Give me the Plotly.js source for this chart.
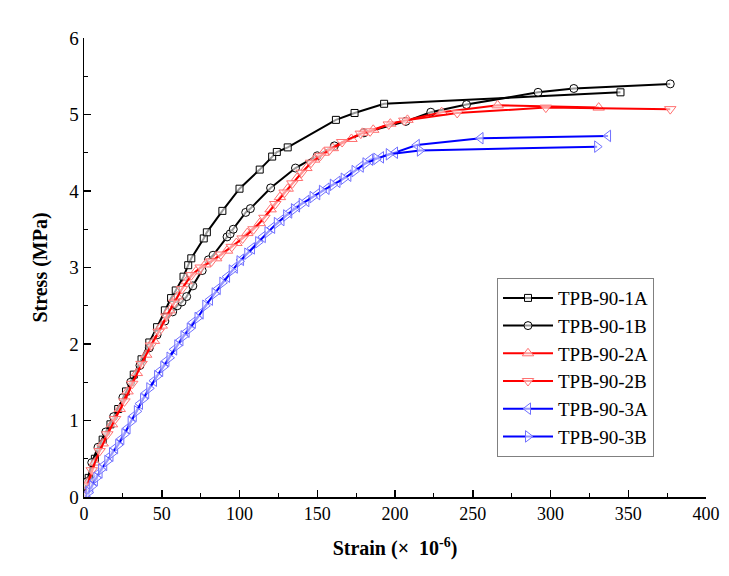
<!DOCTYPE html>
<html>
<head>
<meta charset="utf-8">
<script src="https://cdn.plot.ly/plotly-3.0.1.min.js"></script>
<style>html,body{margin:0;padding:0;background:#fff;}#chart{width:729px;height:576px;}</style>
</head>
<body>
<div id="chart"></div>
<script>
const names = ["TPB-90-1A","TPB-90-1B","TPB-90-2A","TPB-90-2B","TPB-90-3A","TPB-90-3B"];

const x1A = [0,3,7,12,17,22,27,32,37,42,47,52,56,59,64,67,69,77,79,89,100,113,121,124,131,162,174,193,345];
const y1A = [0,0.25,0.5,0.75,0.95,1.15,1.38,1.6,1.8,2.02,2.22,2.44,2.6,2.7,2.88,3.03,3.12,3.38,3.46,3.74,4.03,4.28,4.45,4.51,4.57,4.93,5.02,5.14,5.29];

const x1B = [0,2,5,9,14,19,25,30,36,42,47,52,57,60,63,66,70,76,80,83,92,94,96,104,107,120,136,150,161,180,207,223,246,292,315,377];
const y1B = [0,0.2,0.45,0.65,0.85,1.05,1.3,1.5,1.72,1.95,2.12,2.3,2.42,2.5,2.55,2.62,2.76,2.96,3.1,3.16,3.4,3.44,3.5,3.72,3.77,4.04,4.3,4.46,4.59,4.76,4.91,5.03,5.13,5.29,5.34,5.40];

const x2A = [0,3,7,12,18,23,28,34,40,45,50,55,60,66,72,78,85,92,98,105,113,120,126,131,137,143,148,154,160,172,179,186,197,208,230,266,331];
const y2A = [0,0.2,0.45,0.7,0.95,1.15,1.38,1.62,1.86,2.04,2.24,2.44,2.62,2.82,2.95,3.04,3.12,3.22,3.32,3.45,3.58,3.76,3.92,4.03,4.17,4.3,4.41,4.5,4.56,4.68,4.76,4.8,4.88,4.93,5.03,5.12,5.09];

const x2B = [0,2,5,10,15,20,26,31,37,43,48,53,58,63,69,75,82,88,95,102,109,116,123,129,134,140,146,152,158,166,178,184,196,206,240,297,377];
const y2B = [0,0.15,0.35,0.6,0.82,1.02,1.25,1.48,1.74,1.98,2.16,2.36,2.54,2.72,2.9,3.0,3.08,3.17,3.27,3.38,3.5,3.65,3.83,3.98,4.1,4.24,4.37,4.46,4.54,4.64,4.75,4.78,4.87,4.92,5.02,5.09,5.07];

const x3A = [2,4,7,10,13,17,20,24,28,32,36,40,45,49,53,58,62,66,70,75,81,86,92,97,101,108,115,121,127,132,137,143,150,156,163,170,178,184,191,200,214,255,337];
const y3A = [0.05,0.12,0.22,0.32,0.42,0.54,0.64,0.76,0.9,1.06,1.22,1.36,1.52,1.65,1.78,1.93,2.05,2.16,2.28,2.4,2.58,2.72,2.88,3.0,3.1,3.25,3.4,3.52,3.62,3.72,3.8,3.87,3.96,4.03,4.12,4.2,4.32,4.41,4.44,4.5,4.6,4.69,4.72];

const x3B = [1,3,5,8,11,15,18,22,26,30,34,38,42,47,51,55,60,64,68,73,78,84,89,95,100,105,112,118,124,130,135,140,147,153,160,167,174,181,188,196,216,330];
const y3B = [0,0.06,0.14,0.25,0.36,0.47,0.57,0.68,0.82,0.98,1.12,1.28,1.42,1.58,1.7,1.82,1.98,2.1,2.2,2.34,2.5,2.66,2.8,2.96,3.08,3.18,3.33,3.46,3.58,3.68,3.76,3.83,3.92,4.0,4.08,4.16,4.26,4.36,4.42,4.48,4.53,4.58];

const xTicks = [0,50,100,150,200,250,300,350,400];
const yTicks = [0,1,2,3,4,5,6];

function tr(x, y, name, lineColor, symbol, mColor, mSize) {
  return {
    x: x, y: y, name: name, type: 'scatter', mode: 'lines+markers',
    line: {color: lineColor, width: 2},
    marker: {symbol: symbol, size: mSize, color: 'rgba(255,255,255,0.6)', line: {color: mColor, width: 1}}
  };
}

const data = [
  tr(x1A, y1A, names[0], '#000000', 'square', '#000000', 7),
  tr(x1B, y1B, names[1], '#000000', 'circle', '#000000', 8),
  tr(x2A, y2A, names[2], '#FF0000', 'triangle-up', '#FF7070', 10),
  tr(x2B, y2B, names[3], '#FF0000', 'triangle-down', '#FF7070', 10),
  tr(x3A, y3A, names[4], '#0000FF', 'triangle-left', '#7070FF', 10),
  tr(x3B, y3B, names[5], '#0000FF', 'triangle-right', '#7070FF', 10)
];

const fontFam = 'Liberation Serif, Times New Roman, serif';

const layout = {
  width: 729, height: 576,
  margin: {l: 84, r: 23, t: 38, b: 79},
  paper_bgcolor: '#ffffff', plot_bgcolor: '#ffffff',
  font: {family: fontFam, color: '#000', size: 18},
  showlegend: true,
  legend: {
    x: 0.664, y: 0.477, xanchor: 'left', yanchor: 'top',
    bordercolor: '#808080', borderwidth: 1, bgcolor: '#ffffff',
    font: {family: fontFam, size: 19, color: '#000'},
    itemwidth: 50, tracegroupgap: 0
  },
  xaxis: {
    range: [0, 400], tickmode: 'array', tickvals: xTicks, ticktext: xTicks.map(String),
    ticks: 'inside', ticklen: 7, tickwidth: 1.5, tickcolor: '#000',
    minor: {ticks: 'inside', ticklen: 4, tickwidth: 1.2, tickcolor: '#000', dtick: 25, tick0: 0},
    showline: true, linecolor: '#000', linewidth: 1.5, mirror: false,
    showgrid: false, zeroline: false,
    tickfont: {family: fontFam, size: 18, color: '#000'},
    title: {text: '<b>Strain (×  10<sup>-6</sup>)</b>', font: {family: fontFam, size: 20, color: '#000'}, standoff: 18}
  },
  yaxis: {
    range: [0, 6], tickmode: 'array', tickvals: yTicks, ticktext: yTicks.map(String),
    ticks: 'inside', ticklen: 7, tickwidth: 1.5, tickcolor: '#000',
    minor: {ticks: 'inside', ticklen: 4, tickwidth: 1.2, tickcolor: '#000', dtick: 0.5, tick0: 0},
    showline: true, linecolor: '#000', linewidth: 1.5, mirror: false,
    showgrid: false, zeroline: false,
    tickfont: {family: fontFam, size: 19, color: '#000'},
    title: {text: '<b>Stress (MPa)</b>', font: {family: fontFam, size: 20, color: '#000'}, standoff: 16}
  }
};

Plotly.newPlot('chart', data, layout, {displayModeBar: false, staticPlot: true});
</script>
</body>
</html>
